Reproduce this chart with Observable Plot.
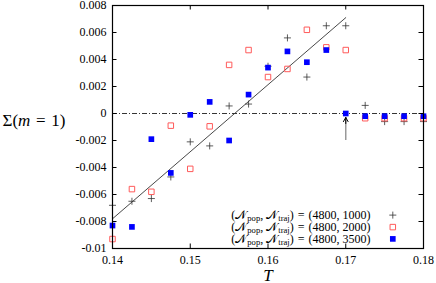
<!DOCTYPE html>
<html><head><meta charset="utf-8">
<script src="https://cdn.jsdelivr.net/npm/d3@7"></script>
<script src="https://cdn.jsdelivr.net/npm/@observablehq/plot@0.6"></script>
<style>html,body{margin:0;padding:0;background:#fff;}</style>
</head><body><div id="chart"></div>
<script>
// ---- data ----
const T = [0.14, 0.1425, 0.145, 0.1475, 0.15, 0.1525, 0.155, 0.1575, 0.16, 0.1625, 0.165, 0.1675, 0.17, 0.1725, 0.175, 0.1775, 0.18];
const sigma1000 = [-0.0068, -0.0065, -0.0063, -0.0047, -0.0021, -0.0024, 0.00056, 0.0007, 0.0035, 0.0056, 0.0027, 0.0065, 0.0065, 0.0006, -0.0006, -0.0006, -0.0006];
const sigma2000 = [-0.0093, -0.0056, -0.0058, -0.0009, -0.0041, -0.00095, 0.0036, 0.0047, 0.0027, 0.0033, 0.0062, 0.0049, 0.0047, -0.00035, -0.00035, -0.00035, -0.00035];
const sigma3500 = [-0.0083, -0.0084, -0.0019, -0.0044, -0.0001, 0.00086, -0.0020, 0.0014, 0.0034, 0.0046, 0.0038, 0.0047, 0.0, -0.0002, -0.0002, -0.0002, -0.0002];
const fitT = [0.14, 0.17];
const fitSigma = [-0.0078, 0.0071];
const arrowT = [0.17];
const arrowFrom = [-0.002];
const arrowTo = [-0.0003];
const xTicks = [0.14, 0.15, 0.16, 0.17, 0.18];
const xTickLabels = ["0.14", "0.15", "0.16", "0.17", "0.18"];
const yTicks = [0.008, 0.006, 0.004, 0.002, 0, -0.002, -0.004, -0.006, -0.008, -0.01];
const yTickLabels = ["0.008", "0.006", "0.004", "0.002", "0", "-0.002", "-0.004", "-0.006", "-0.008", "-0.01"];
const legendLabels = [
  "(𝒩_{pop}, 𝒩_{traj})\u2004=\u2004(4800, 1000)",
  "(𝒩_{pop}, 𝒩_{traj})\u2004=\u2004(4800, 2000)",
  "(𝒩_{pop}, 𝒩_{traj})\u2004=\u2004(4800, 3500)"
];
const xLabel = "*{T}";
const yLabel = "Σ(*{m}\u2004=\u20041)";

// ---- layout / styles ----
const W = 436, H = 283, mL = 112, mR = 13, mT = 5, mB = 35;
const pw = W - mL - mR, ph = H - mT - mB;
const tickLen = 4.5;
const seriesStyles = [
  {symbol: "plus", r: 2.4, stroke: "#333", strokeWidth: 0.8, fill: "none"},
  {symbol: "square2", r: 3.5, stroke: "#ff5a5a", strokeWidth: 1, fill: "none"},
  {symbol: "square", r: 3.2, fill: "#0000ff", stroke: "none"}
];
const legendDy = [-33.4, -21.4, -9.6];

const rowsOf = (ys) => T.map((t, i) => ({T: t, S: ys[i]}));
const series = [sigma1000, sigma2000, sigma3500].map(rowsOf);
const fitRows = fitT.map((t, i) => ({T: t, S: fitSigma[i]}));
const arrowRows = arrowT.map((t, i) => ({T: t, from: arrowFrom[i], to: arrowTo[i]}));

const legendMarks = legendLabels.flatMap((lab, i) => [
  Plot.text([lab], {frameAnchor: "bottom-right", dx: -53, dy: legendDy[i], textAnchor: "end", lineAnchor: "middle", fontSize: 12}),
  Plot.dot([lab], {frameAnchor: "bottom-right", dx: -30.7, dy: legendDy[i], ...seriesStyles[i]})
]);

const svg = Plot.plot({
  width: W, height: H,
  marginLeft: mL, marginRight: mR, marginTop: mT, marginBottom: mB,
  x: {domain: [0.14, 0.18]},
  y: {domain: [-0.01, 0.008]},
  style: {fontFamily: "'Liberation Serif', serif", fontSize: "12px", background: "#fff", color: "#000", overflow: "visible"},
  marks: [
    Plot.ruleY([0], {stroke: "#000", strokeWidth: 0.8, strokeDasharray: "5,2,1,2"}),
    Plot.line(fitRows, {x: "T", y: "S", stroke: "#333", strokeWidth: 0.9}),
    ...series.map((rows, i) => Plot.dot(rows, {x: "T", y: "S", ...seriesStyles[i]})),
    Plot.ruleX(arrowRows, {x: "T", y1: "from", y2: "to", stroke: "#999", strokeWidth: 1.5}),
    Plot.arrow(arrowRows, {x1: "T", x2: "T", y1: "from", y2: "to", stroke: "#000", strokeWidth: 1, insetStart: 17, headLength: 7}),
    Plot.frame({stroke: "#000", strokeWidth: 1.2}),
    Plot.tickX(xTicks, {x: d => d, insetTop: ph - tickLen, stroke: "#000"}),
    Plot.tickX(xTicks, {x: d => d, insetBottom: ph - tickLen, stroke: "#000"}),
    Plot.tickY(yTicks, {y: d => d, insetRight: pw - tickLen, stroke: "#000"}),
    Plot.tickY(yTicks, {y: d => d, insetLeft: pw - tickLen, stroke: "#000"}),
    Plot.axisX({ticks: xTicks, tickSize: 0, tickPadding: 7, tickFormat: d => xTickLabels[xTicks.indexOf(d)], label: null, fontSize: 12}),
    Plot.axisY({ticks: yTicks, tickSize: 0, tickPadding: 6, tickFormat: d => yTickLabels[yTicks.indexOf(d)], label: null, fontSize: 12}),
    Plot.text([xLabel], {frameAnchor: "bottom", dy: 32, lineAnchor: "bottom", fontSize: 17}),
    Plot.text([yLabel], {frameAnchor: "left", dx: -110, dy: -6, textAnchor: "start", lineAnchor: "middle", fontSize: 17}),
    ...legendMarks
  ]
});
document.getElementById("chart").appendChild(svg);

// rich text: _{...} subscript, *{...} italic
function richify(el) {
  const s = el.textContent;
  if (!/[_*]\{/.test(s)) return;
  const fs = parseFloat(getComputedStyle(el).fontSize) || 12;
  el.textContent = "";
  const re = /([_*])\{([^}]*)\}/g;
  let last = 0, m, shift = 0;
  const add = (txt, opts = {}) => {
    const ts = document.createElementNS("http://www.w3.org/2000/svg", "tspan");
    ts.textContent = txt;
    if (opts.italic) ts.setAttribute("font-style", "italic");
    if (opts.size) ts.setAttribute("font-size", opts.size);
    if (opts.dy) ts.setAttribute("dy", opts.dy);
    el.appendChild(ts);
  };
  while ((m = re.exec(s))) {
    if (m.index > last) { add(s.slice(last, m.index), {dy: shift ? -shift : 0}); shift = 0; }
    if (m[1] === "_") { const d = fs * 0.2; add(m[2], {size: fs * 0.72, dy: d - shift}); shift = d; }
    else { add(m[2], {italic: true, dy: shift ? -shift : 0}); shift = 0; }
    last = re.lastIndex;
  }
  if (last < s.length) add(s.slice(last), {dy: shift ? -shift : 0});
}
svg.querySelectorAll("text").forEach(richify);
</script>
</body></html>
